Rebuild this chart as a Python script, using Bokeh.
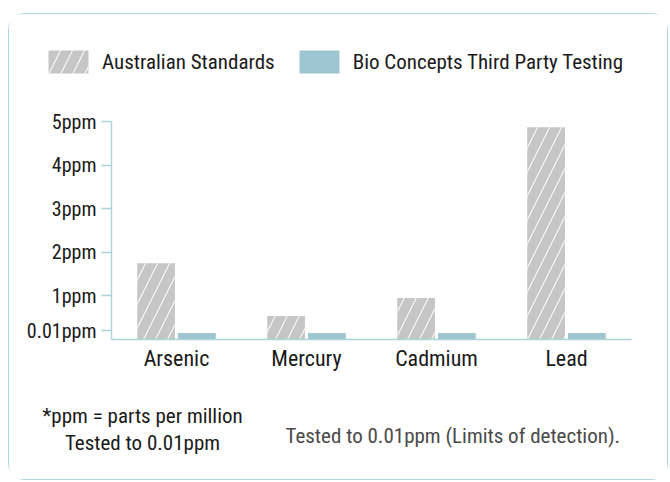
from bokeh.plotting import figure
from bokeh.layouts import column
from bokeh.models import FactorRange, Legend, LegendItem, Label, FixedTicker, ColumnDataSource
from bokeh.transform import dodge
from bokeh.embed import file_html
from bokeh.resources import INLINE

metals = ["Arsenic", "Mercury", "Cadmium", "Lead"]
australian_standards = [1.75, 0.54, 0.95, 4.87]
bio_concepts = [0.15, 0.15, 0.15, 0.15]
y_ticks = [0.2, 1, 2, 3, 4, 5]
y_tick_labels = ["0.01ppm", "1ppm", "2ppm", "3ppm", "4ppm", "5ppm"]
series_names = ["Australian Standards", "Bio Concepts Third Party Testing"]
footnote_left = ["*ppm = parts per million", "Tested to 0.01ppm"]
footnote_right = "Tested to 0.01ppm (Limits of detection)."

FONT = "Roboto Condensed, DejaVu Sans Condensed, Roboto, sans-serif"
AXIS_BLUE = "#add4dc"
GRAY = "#c6c6c6"
BLUE = "#9ec6d0"
TEXT = "#1a1a1a"
W = 658

bar_style_aus = dict(fill_color=GRAY, line_color=None, hatch_pattern="/", hatch_color="white",
                     hatch_scale=24, hatch_weight=1.2, hatch_alpha=0.85)
bar_style_bio = dict(fill_color=BLUE, line_color=None)

src = ColumnDataSource(dict(metal=metals, aus=australian_standards, bio=bio_concepts))


def strip(height, **kw):
    f = figure(width=W, height=height, output_backend="svg", toolbar_location=None, tools="",
               x_axis_location=None, y_axis_location=None, min_border=0,
               frame_align=False, **kw)
    f.grid.visible = False
    f.outline_line_color = None
    return f


# ---- legend strip (its bars lie outside its own visible range; only the legend shows) ----
top = strip(76, x_range=FactorRange(factors=metals), y_range=(-1, 0))
lr1 = top.vbar(x="metal", top="aus", width=0.29, source=src, **bar_style_aus)
lr2 = top.vbar(x="metal", top="bio", width=0.29, source=src, **bar_style_bio)
legend = Legend(
    items=[LegendItem(label=series_names[0], renderers=[lr1]),
           LegendItem(label=series_names[1], renderers=[lr2])],
    orientation="horizontal", location=(34, 14),
    glyph_width=50, glyph_height=29, label_standoff=9, spacing=19,
    padding=0, margin=0, border_line_color=None, background_fill_alpha=0,
    label_text_font=FONT, label_text_font_size="21px", label_text_color=TEXT,
)
top.add_layout(legend)

# ---- main chart ----
p = figure(
    x_range=FactorRange(factors=metals, range_padding=0),
    y_range=(0, 5),
    frame_width=520, frame_height=218,
    min_border_left=102, min_border_right=36,
    min_border_top=31, min_border_bottom=41,
    output_backend="svg", toolbar_location=None, tools="", frame_align=False,
)
p.grid.visible = False
p.outline_line_color = None

p.vbar(x=dodge("metal", -0.157, range=p.x_range), top="aus", width=0.29, source=src, **bar_style_aus)
p.vbar(x=dodge("metal", 0.157, range=p.x_range), top="bio", width=0.29, source=src, **bar_style_bio)

xa = p.xaxis[0]
xa.axis_line_color = AXIS_BLUE
xa.axis_line_width = 1.5
xa.major_tick_line_color = None
xa.minor_tick_line_color = None
xa.major_label_text_font = FONT
xa.major_label_text_font_size = "22px"
xa.major_label_text_color = TEXT
xa.major_label_standoff = 0

ya = p.yaxis[0]
ya.ticker = FixedTicker(ticks=y_ticks)
ya.major_label_overrides = dict(zip(y_ticks, y_tick_labels))
ya.axis_line_color = AXIS_BLUE
ya.axis_line_width = 1.5
ya.major_tick_line_color = AXIS_BLUE
ya.major_tick_line_width = 1.5
ya.major_tick_out = 10
ya.major_tick_in = 0
ya.minor_tick_line_color = None
ya.major_label_text_font = FONT
ya.major_label_text_font_size = "20px"
ya.major_label_text_color = TEXT
ya.major_label_standoff = 5

# ---- footnotes ----
bottom = strip(99, x_range=(0, 1), y_range=(0, 1))
bottom.add_layout(Label(x=133, y=64, x_units="screen", y_units="screen", text=footnote_left[0],
                        text_align="center", text_baseline="middle", text_font=FONT,
                        text_font_size="21px", text_color=TEXT))
bottom.add_layout(Label(x=133, y=37, x_units="screen", y_units="screen", text=footnote_left[1],
                        text_align="center", text_baseline="middle", text_font=FONT,
                        text_font_size="21px", text_color=TEXT))
bottom.add_layout(Label(x=276, y=44, x_units="screen", y_units="screen", text=footnote_right,
                        text_align="left", text_baseline="middle", text_font=FONT,
                        text_font_size="21px", text_color="#4a4a4a"))

layout = column(top, p, bottom, spacing=0)
layout.styles = {"border": "1px solid #b3d7de", "border-radius": "16px",
                 "position": "absolute", "top": "13px", "left": "8px", "background": "white"}

open("out.html", "w").write(file_html(layout, INLINE))
